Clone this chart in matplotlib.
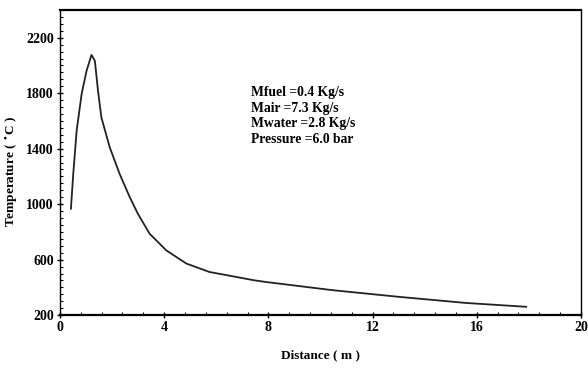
import matplotlib
matplotlib.use("Agg")
import matplotlib.pyplot as plt
from matplotlib.ticker import MultipleLocator

# Temperature profile along the combustor
distance = [0.42, 0.51, 0.64, 0.83, 1.02, 1.21, 1.34, 1.46, 1.59, 1.91,
            2.29, 2.68, 2.99, 3.44, 4.08, 4.85, 5.74, 6.63, 7.46, 7.9,
            10.46, 13.0, 15.57, 17.9]
temperature = [967, 1218, 1529, 1793, 1961, 2076, 2033, 1817, 1625, 1410,
               1218, 1050, 931, 787, 667, 572, 511, 480, 451, 439,
               380, 332, 288, 260]

x_ticks = [0, 4, 8, 12, 16, 20]
y_ticks = [200, 600, 1000, 1400, 1800, 2200]
notes = ["Mfuel =0.4 Kg/s", "Mair =7.3 Kg/s", "Mwater =2.8 Kg/s", "Pressure =6.0 bar"]

serif = ["Liberation Serif", "DejaVu Serif"]

fig = plt.figure(figsize=(5.88, 3.69), dpi=100)
ax = fig.add_axes([0.102, 0.146, 0.886, 0.827])

ax.plot(distance, temperature, color="#222222", lw=1.3)

ax.set_xlim(0, 20)
ax.set_ylim(200, 2400)
ax.set_xticks(x_ticks)
ax.set_yticks(y_ticks)
ax.xaxis.set_minor_locator(MultipleLocator(0.8))
ax.yaxis.set_minor_locator(MultipleLocator(50))
ax.tick_params(which="major", direction="inout", length=5, width=1,
               labelsize=10, pad=2)
ax.tick_params(which="minor", direction="in", length=2.5, width=0.8)
ax.tick_params(top=False, right=False, which="both")
for lab in ax.get_xticklabels() + ax.get_yticklabels():
    lab.set_family(serif)
    lab.set_fontweight("bold")

for side in ["top", "bottom"]:
    ax.spines[side].set_linewidth(1.6)
for side in ["left", "right"]:
    ax.spines[side].set_linewidth(1.0)

ax.set_xlabel("Distance ( m )", family=serif, fontweight="bold", fontsize=9.5, labelpad=11)
ax.set_ylabel("Temperature ( $^{\\bullet}$C )", family=serif, fontweight="bold",
              fontsize=9.5)
ax.yaxis.set_label_coords(-0.077, 0.47)

ax.text(7.35, 1850, "\n".join(notes), family=serif, fontweight="bold",
        fontsize=9.8, va="top", ha="left", linespacing=1.25)

fig.savefig("out.png", dpi=100)
